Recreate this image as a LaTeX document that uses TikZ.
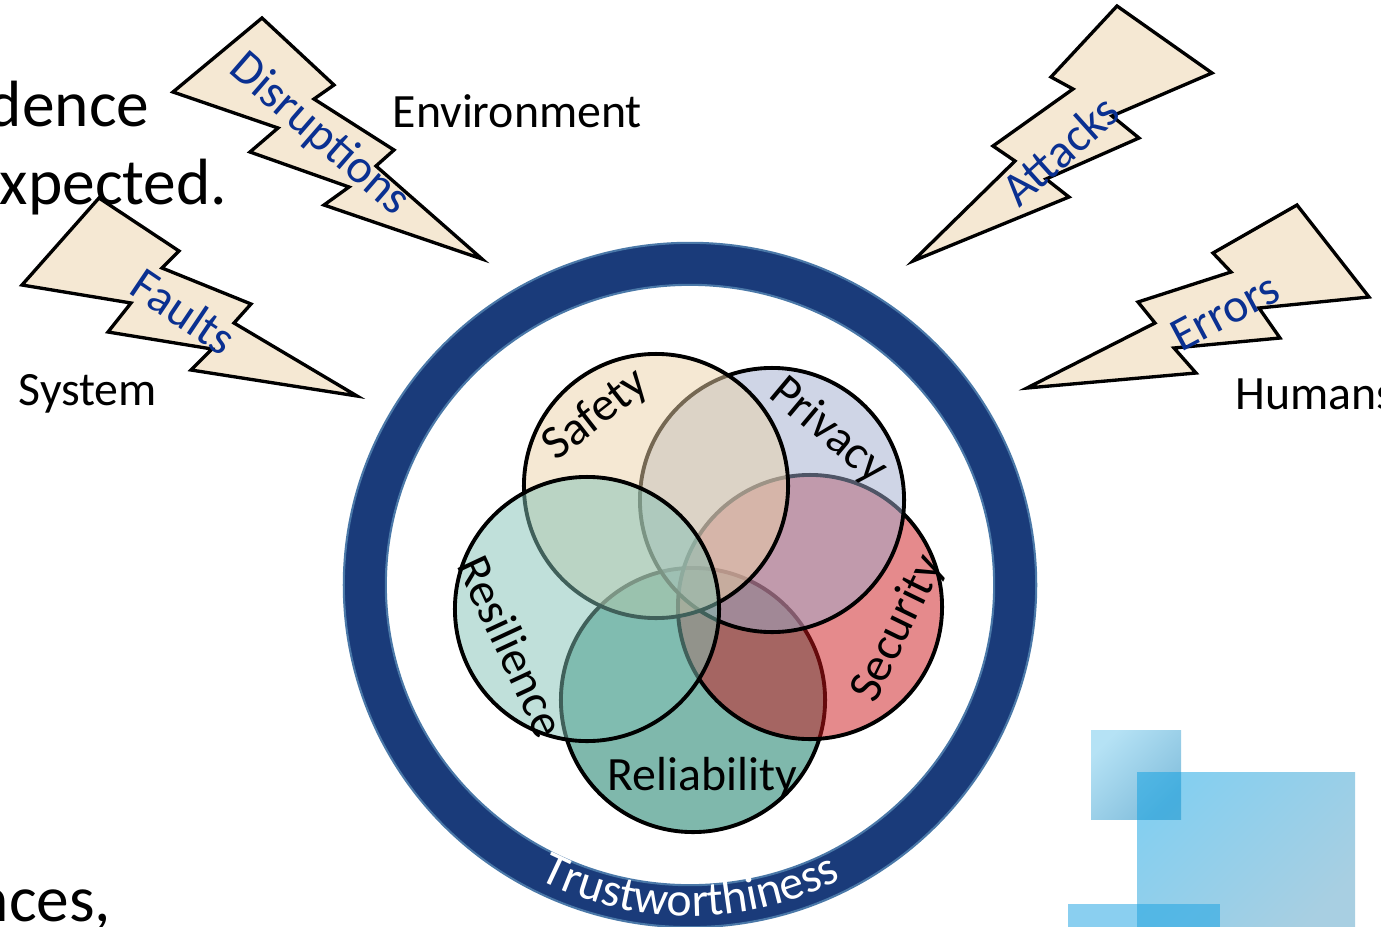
\documentclass[tikz,border=0pt]{standalone}
\usepackage{fontspec}
\setmainfont{Carlito}
\usetikzlibrary{decorations.text,calc}
\definecolor{boltfill}{RGB}{245,232,211}
\definecolor{faultblue}{RGB}{10,48,145}
\definecolor{ringblue}{RGB}{26,59,122}
\definecolor{ringedge}{RGB}{74,120,168}
\definecolor{safetyfill}{RGB}{235,209,167}
\definecolor{privacyfill}{RGB}{159,171,205}
\definecolor{securityfill}{RGB}{203,21,25}
\definecolor{reliabilityfill}{RGB}{0,113,89}
\definecolor{resiliencefill}{RGB}{129,193,181}
\definecolor{smalllight}{RGB}{107,197,235}
\definecolor{smalldark}{RGB}{5,125,185}
\definecolor{biglight}{RGB}{11,159,225}
\definecolor{bigdark}{RGB}{81,159,197}
\definecolor{stripblue}{RGB}{21,160,225}
\begin{document}
\begin{tikzpicture}
[x=0.01cm,y=-0.01cm,
bolt/.style={draw=black,fill=boltfill,line width=0.95pt},
venn/.style={circle,draw=black,line width=1.1pt,fill opacity=0.5,inner sep=0pt,minimum size=2.64cm},
plain/.style={font=\fontsize{13.6pt}{16pt}\selectfont,inner sep=0pt},
threat/.style={plain,text=faultblue},
bigtext/.style={font=\fontsize{18.6pt}{22pt}\selectfont,inner sep=0pt,anchor=base east},
square/.style={opacity=0.5,top color=#1,shading angle=45}]
\useasboundingbox (0,0) rectangle (1381,927);
\clip (0,0) rectangle (1381,927);
% slide text behind the picture
\node[bigtext] (line one) at (150,126) {dence};
\node[bigtext] (line two) at (228,204) {expected.};
\node[bigtext] (line three) at (112,921) {nces,};
% decoration squares
\shade[square=smalllight,bottom color=smalldark,shading angle=45] (1091,730) rectangle (1181,819);
\shade[square=biglight,bottom color=bigdark,shading angle=45] (1137,772) rectangle (1355,930);
\fill[stripblue,opacity=0.5] (1068,904) rectangle (1220,930);
% ring
\coordinate (ring centre) at (690,585);
\path[fill=ringblue,draw=ringedge,line width=0.6pt,even odd rule] (ring centre) circle[x radius=3.46cm,y radius=3.42cm] (ring centre) circle[x radius=3.04cm,y radius=3.00cm];
\path[decorate,decoration={text along path,text align=center,text={|\fontsize{13.6pt}{16pt}\selectfont\color{white}|Trustworthiness}}] ($(ring centre)+(-122:3.31cm)$) arc[start angle=-122,end angle=-58,radius=3.31cm];
% circles, lowest first
\node[venn,fill=reliabilityfill] (reliability) at (693,700) {};
\node[venn,fill=securityfill] (security) at (810,607) {};
\node[venn,fill=privacyfill] (privacy) at (772,500) {};
\node[venn,fill=safetyfill] (safety) at (656,486) {};
\node[venn,fill=resiliencefill] (resilience) at (587,609) {};
\node[plain,rotate=38] (safety label) at (596,415) {Safety};
\node[plain,rotate=-40] (privacy label) at (828,431) {Privacy};
\node[plain,rotate=64] (security label) at (898,629) {Security};
\node[plain,rotate=-65] (resilience label) at (512,646) {Resilience};
\node[plain] (reliability label) at (702,778) {Reliability};
% bolts
\draw[bolt] (262,18) -- (334,85) -- (314,99) -- (394,150) -- (376,166) -- (482,259) -- (324,205) -- (349,187) -- (250,152) -- (278,128) -- (173,92) -- cycle;
\draw[bolt] (99,198) -- (179,251) -- (162,268) -- (251,304) -- (234,323) -- (357,396) -- (191,370) -- (212,349) -- (108,332) -- (131,303) -- (22,285) -- cycle;
\draw[bolt] (1117,6) -- (1212,73) -- (1112,116) -- (1139,138) -- (1046,179) -- (1069,197) -- (913,261) -- (1015,161) -- (993,146) -- (1073,89) -- (1051,77) -- cycle;
\draw[bolt] (1297,205) -- (1369,297) -- (1259,308) -- (1280,338) -- (1174,348) -- (1196,373) -- (1027,388) -- (1155,323) -- (1138,302) -- (1231,272) -- (1213,253) -- cycle;
\node[threat,rotate=-41] (disruptions) at (319,135) {Disruptions};
\node[threat,rotate=-34] (faults) at (184,311) {Faults};
\node[threat,rotate=42] (attacks) at (1060,150) {Attacks};
\node[threat,rotate=28] (errors) at (1225,312) {Errors};
\node[plain,anchor=west] (environment) at (392,111) {Environment};
\node[plain,anchor=west] (system) at (18,394) {System};
\node[plain,anchor=west] (humans) at (1235,394) {Humans};
\end{tikzpicture}
\end{document}
